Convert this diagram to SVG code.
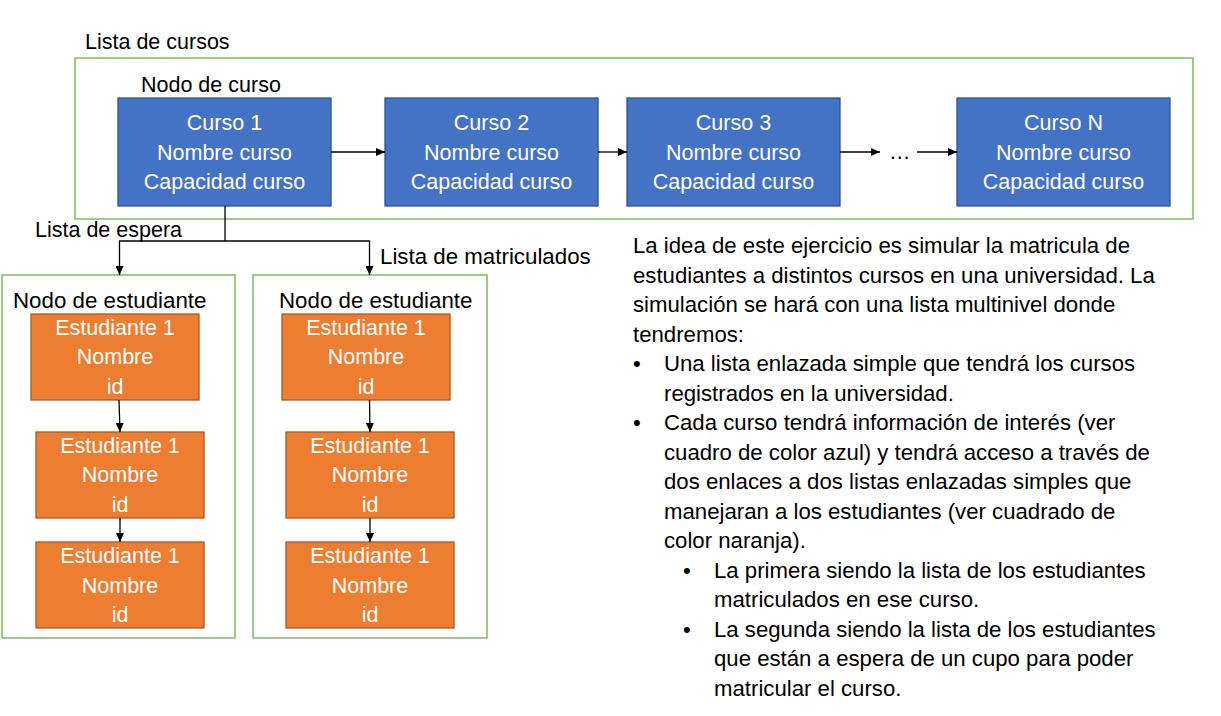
<svg xmlns="http://www.w3.org/2000/svg" width="1221" height="716" viewBox="0 0 1221 716">
<style>
text{font-family:"Liberation Sans",Arial,sans-serif;font-size:21.5px;fill:#000}
.w{fill:#fff;text-anchor:middle}
.course{fill:#4472C4;stroke:#2F528F;stroke-width:1.3}
.stud{fill:#ED7D31;stroke:#AE5A21;stroke-width:1.3}
.frame{fill:none;stroke:#70AD47;stroke-width:1.3}
.conn{fill:none;stroke:#000;stroke-width:1.3;marker-end:url(#ah)}
.line{fill:none;stroke:#000;stroke-width:1.3}
.p{font-size:22.2px}
.lb{font-size:22.3px}
</style>
<defs>
<marker id="ah" markerUnits="userSpaceOnUse" markerWidth="10" markerHeight="8" refX="9" refY="4" orient="auto">
<path d="M0,0 L9,4 L0,8 z" fill="#000"/>
</marker>
</defs>
<rect width="1221" height="716" fill="#fff"/>

<g id="lista-cursos">
<rect class="frame" x="75" y="58" width="1118" height="161"/>
<text x="85" y="49">Lista de cursos</text>
<text x="141" y="92">Nodo de curso</text>
</g>

<g id="curso1">
<rect class="course" x="118" y="98" width="213" height="108"/>
<text class="w" x="224.5" y="130">Curso 1</text>
<text class="w" x="224.5" y="159.5">Nombre curso</text>
<text class="w" x="224.5" y="189">Capacidad curso</text>
</g>
<g id="curso2">
<rect class="course" x="385" y="98" width="213" height="108"/>
<text class="w" x="491.5" y="130">Curso 2</text>
<text class="w" x="491.5" y="159.5">Nombre curso</text>
<text class="w" x="491.5" y="189">Capacidad curso</text>
</g>
<g id="curso3">
<rect class="course" x="627" y="98" width="213" height="108"/>
<text class="w" x="733.5" y="130">Curso 3</text>
<text class="w" x="733.5" y="159.5">Nombre curso</text>
<text class="w" x="733.5" y="189">Capacidad curso</text>
</g>
<g id="ellipsis">
<text x="889" y="159">…</text>
</g>
<g id="cursoN">
<rect class="course" x="957" y="98" width="213" height="108"/>
<text class="w" x="1063.5" y="130">Curso N</text>
<text class="w" x="1063.5" y="159.5">Nombre curso</text>
<text class="w" x="1063.5" y="189">Capacidad curso</text>
</g>

<g id="lista-espera">
<rect class="frame" x="2" y="275" width="233" height="363"/>
<text x="35" y="237">Lista de espera</text>
<text class="lb" x="13" y="308">Nodo de estudiante</text>
</g>
<g id="lista-matriculados">
<rect class="frame" x="253" y="275" width="234" height="363"/>
<text class="lb" x="380" y="264">Lista de matriculados</text>
<text class="lb" x="279" y="308">Nodo de estudiante</text>
</g>

<g id="espera-est1">
<rect class="stud" x="31" y="314" width="168" height="86"/>
<text class="w" x="115" y="335">Estudiante 1</text>
<text class="w" x="115" y="364">Nombre</text>
<text class="w" x="115" y="394">id</text>
</g>
<g id="espera-est2">
<rect class="stud" x="36" y="432" width="168" height="86"/>
<text class="w" x="120" y="453">Estudiante 1</text>
<text class="w" x="120" y="482">Nombre</text>
<text class="w" x="120" y="512">id</text>
</g>
<g id="espera-est3">
<rect class="stud" x="36" y="542" width="168" height="86"/>
<text class="w" x="120" y="563">Estudiante 1</text>
<text class="w" x="120" y="593">Nombre</text>
<text class="w" x="120" y="622">id</text>
</g>
<g id="matric-est1">
<rect class="stud" x="282" y="314" width="168" height="86"/>
<text class="w" x="366" y="335">Estudiante 1</text>
<text class="w" x="366" y="364">Nombre</text>
<text class="w" x="366" y="394">id</text>
</g>
<g id="matric-est2">
<rect class="stud" x="286" y="432" width="168" height="86"/>
<text class="w" x="370" y="453">Estudiante 1</text>
<text class="w" x="370" y="482">Nombre</text>
<text class="w" x="370" y="512">id</text>
</g>
<g id="matric-est3">
<rect class="stud" x="286" y="542" width="168" height="86"/>
<text class="w" x="370" y="563">Estudiante 1</text>
<text class="w" x="370" y="593">Nombre</text>
<text class="w" x="370" y="622">id</text>
</g>

<g id="connectors">
<path class="conn" d="M331,152 H385"/>
<path class="conn" d="M598,152 H627"/>
<path class="conn" d="M840,152 H880"/>
<path class="conn" d="M917,152 H957"/>
<path class="line" d="M225,206 V241"/>
<path class="conn" d="M225,241 H119.5 V275"/>
<path class="conn" d="M225,241 H369.5 V275"/>
<path class="conn" d="M119,400 L120,432"/>
<path class="conn" d="M120,518 V542"/>
<path class="conn" d="M369.5,400 L370,432"/>
<path class="conn" d="M370,518 V542"/>
</g>

<g id="descripcion">
<text class="p" x="633" y="253">La idea de este ejercicio es simular la matricula de</text>
<text class="p" x="633" y="282.5">estudiantes a distintos cursos en una universidad. La</text>
<text class="p" x="633" y="312">simulación se hará con una lista multinivel donde</text>
<text class="p" x="633" y="341.5">tendremos:</text>
<text class="p" x="633" y="371">•</text>
<text class="p" x="664" y="371">Una lista enlazada simple que tendrá los cursos</text>
<text class="p" x="664" y="400.5">registrados en la universidad.</text>
<text class="p" x="633" y="430">•</text>
<text class="p" x="664" y="430">Cada curso tendrá información de interés (ver</text>
<text class="p" x="664" y="459.5">cuadro de color azul) y tendrá acceso a través de</text>
<text class="p" x="664" y="489">dos enlaces a dos listas enlazadas simples que</text>
<text class="p" x="664" y="518.5">manejaran a los estudiantes (ver cuadrado de</text>
<text class="p" x="664" y="548">color naranja).</text>
<text class="p" x="683" y="577.5">•</text>
<text class="p" x="714" y="577.5">La primera siendo la lista de los estudiantes</text>
<text class="p" x="714" y="607">matriculados en ese curso.</text>
<text class="p" x="683" y="636.5">•</text>
<text class="p" x="714" y="636.5">La segunda siendo la lista de los estudiantes</text>
<text class="p" x="714" y="666">que están a espera de un cupo para poder</text>
<text class="p" x="714" y="695.5">matricular el curso.</text>
</g>
</svg>
